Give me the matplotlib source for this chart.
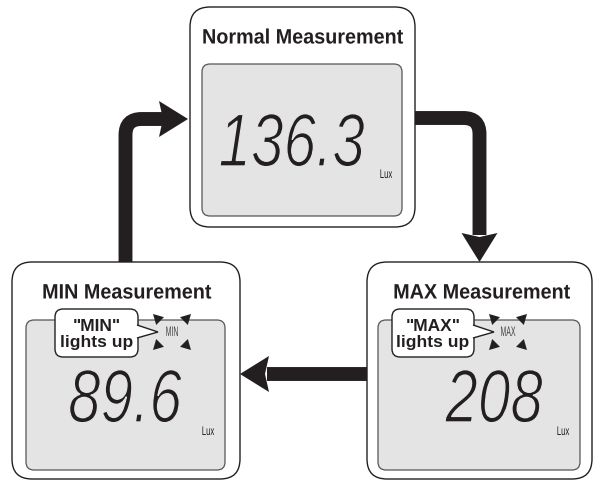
import matplotlib
matplotlib.use("Agg")
import matplotlib.pyplot as plt
from matplotlib.patches import FancyBboxPatch, Polygon, PathPatch
from matplotlib.path import Path
from matplotlib.transforms import Affine2D
import matplotlib.patheffects as pe

# panel contents
titles = ["Normal Measurement", "MIN Measurement", "MAX Measurement"]
readings = ["136.3", "89.6", "208"]
unit = "Lux"
mode_labels = [None, "MIN", "MAX"]
callout_texts = [None, '"MIN"\nlights up', '"MAX"\nlights up']

# panel geometry in pixels: outer box (x0, y0, x1, y1), lcd box
outer_boxes = [(190, 8, 415, 228), (12, 263, 240, 480), (367, 263, 592, 480)]
lcd_boxes = [(202, 65, 402, 217), (26, 321, 225, 471), (378, 321, 580, 471)]
title_pos = [(303, 39), (127, 294), (482, 294)]
reading_pos = [(365, 167), (182, 423), (543, 423)]
unit_pos = [(386, 176), (208, 433), (563, 433)]
mode_pos = [None, (172, 333), (508, 333)]
callout_boxes = [None, (55, 310, 138, 358), (392, 310, 474, 358)]

INK = "#231f20"
LCD_FILL = "#e4e4e4"

fig = plt.figure(figsize=(5.94, 4.85), dpi=100)
ax = fig.add_axes([0, 0, 1, 1])
ax.set_xlim(0, 594)
ax.set_ylim(485, 0)
ax.axis("off")


class Narrow(pe.AbstractPathEffect):
    """squeeze the glyphs horizontally about a fixed x, optionally thin them"""

    def __init__(self, x_anchor, sx, thin=0.0, bg=LCD_FILL):
        super().__init__()
        self.x_anchor = x_anchor
        self.sx = sx
        self.thin = thin
        self.bg = bg

    def draw_path(self, renderer, gc, tpath, affine, rgbFace=None):
        xd = ax.transData.transform((self.x_anchor, 0))[0]
        squeeze = Affine2D().translate(-xd, 0).scale(self.sx, 1).translate(xd, 0)
        renderer.draw_path(gc, tpath, affine + squeeze, rgbFace)
        if self.thin > 0:
            gc0 = renderer.new_gc()
            gc0.copy_properties(gc)
            gc0.set_foreground(self.bg)
            gc0.set_linewidth(self.thin)
            gc0.set_joinstyle("round")
            renderer.draw_path(gc0, tpath, affine + squeeze, None)
            gc0.restore()


def rbox(box, r, fc, ec, lw, z):
    x0, y0, x1, y1 = box
    p = FancyBboxPatch((x0, y0), x1 - x0, y1 - y0,
                       boxstyle=f"round,pad=0,rounding_size={r}",
                       fc=fc, ec=ec, lw=lw, zorder=z)
    ax.add_patch(p)


def head(tip, direction, length=29, half=18, notch=4):
    tx, ty = tip
    dx, dy = direction
    nx, ny = -dy, dx
    bx, by = tx - dx * length, ty - dy * length
    pts = [(tx, ty),
           (bx + nx * half, by + ny * half),
           (bx + dx * notch, by + dy * notch),
           (bx - nx * half, by - ny * half)]
    ax.add_patch(Polygon(pts, closed=True, fc=INK, ec="none", zorder=5))


def shaft(verts, codes):
    ax.add_patch(PathPatch(Path(verts, codes), fc="none", ec=INK,
                           lw=10, capstyle="butt", joinstyle="miter", zorder=5))


FAM = ["Liberation Sans", "DejaVu Sans"]

for i in range(3):
    rbox(outer_boxes[i], 20, "white", INK, 1.0, 1)
    rbox(lcd_boxes[i], 8, LCD_FILL, "#555555", 0.9, 2)
    tx, ty = title_pos[i]
    ax.text(tx, ty, titles[i], ha="center", va="center",
            fontsize=15, fontweight="bold", color=INK, family=FAM, zorder=6,
            path_effects=[Narrow(tx, 0.95)])

    rx, ry = reading_pos[i]
    ax.text(rx, ry, readings[i], ha="right", va="baseline",
            fontsize=54, fontstyle="italic", color=INK, family=FAM, zorder=6,
            path_effects=[Narrow(rx, 0.78, thin=1.0)])
    ux, uy = unit_pos[i]
    ax.text(ux, uy, unit, ha="center", va="center", fontsize=9,
            color=INK, family=FAM, zorder=6, path_effects=[Narrow(ux, 0.62)])

    if mode_labels[i] is not None:
        mx, my = mode_pos[i]
        ax.text(mx, my, mode_labels[i], ha="center", va="center", fontsize=10,
                color="#444444", family=FAM, zorder=6,
                path_effects=[Narrow(mx, 0.5)])
        # little flash marks around the indicator
        d = 0.7071
        for sx in (-1, 1):
            for sy in (-1, 1):
                cx, cy = mx + sx * 15, my + sy * 14
                head((cx + sx * 4, cy + sy * 4), (sx * d, sy * d),
                     length=10, half=5.5, notch=0)

        x0, y0, x1, y1 = callout_boxes[i]
        rbox(callout_boxes[i], 8, "white", INK, 1.0, 7)
        # pointer of the speech bubble
        tip = (mx - 14, my)
        ax.add_patch(Polygon([(x1 - 1, 326), tip, (x1 - 1, 339)], closed=False,
                             fc="white", ec=INK, lw=1.0, zorder=8))
        ax.text((x0 + x1) / 2, (y0 + y1) / 2 + 0.5, callout_texts[i], ha="center",
                va="center", fontsize=12.5, fontweight="bold", color=INK,
                linespacing=1.1, family=FAM, zorder=9)

# arrow MIN -> Normal
r = 16
shaft([(125.5, 263), (125.5, 120 + r), (125.5, 120), (125.5 + r, 120), (163, 120)],
      [Path.MOVETO, Path.LINETO, Path.CURVE3, Path.CURVE3, Path.LINETO])
head((188, 120), (1, 0))

# arrow Normal -> MAX
shaft([(415, 119), (479.5 - r, 119), (479.5, 119), (479.5, 119 + r), (479.5, 236)],
      [Path.MOVETO, Path.LINETO, Path.CURVE3, Path.CURVE3, Path.LINETO])
head((479.5, 263), (0, 1))

# arrow MAX -> MIN
shaft([(367, 375), (267, 375)], [Path.MOVETO, Path.LINETO])
head((240, 375), (-1, 0))

fig.savefig("out.png", dpi=100)
